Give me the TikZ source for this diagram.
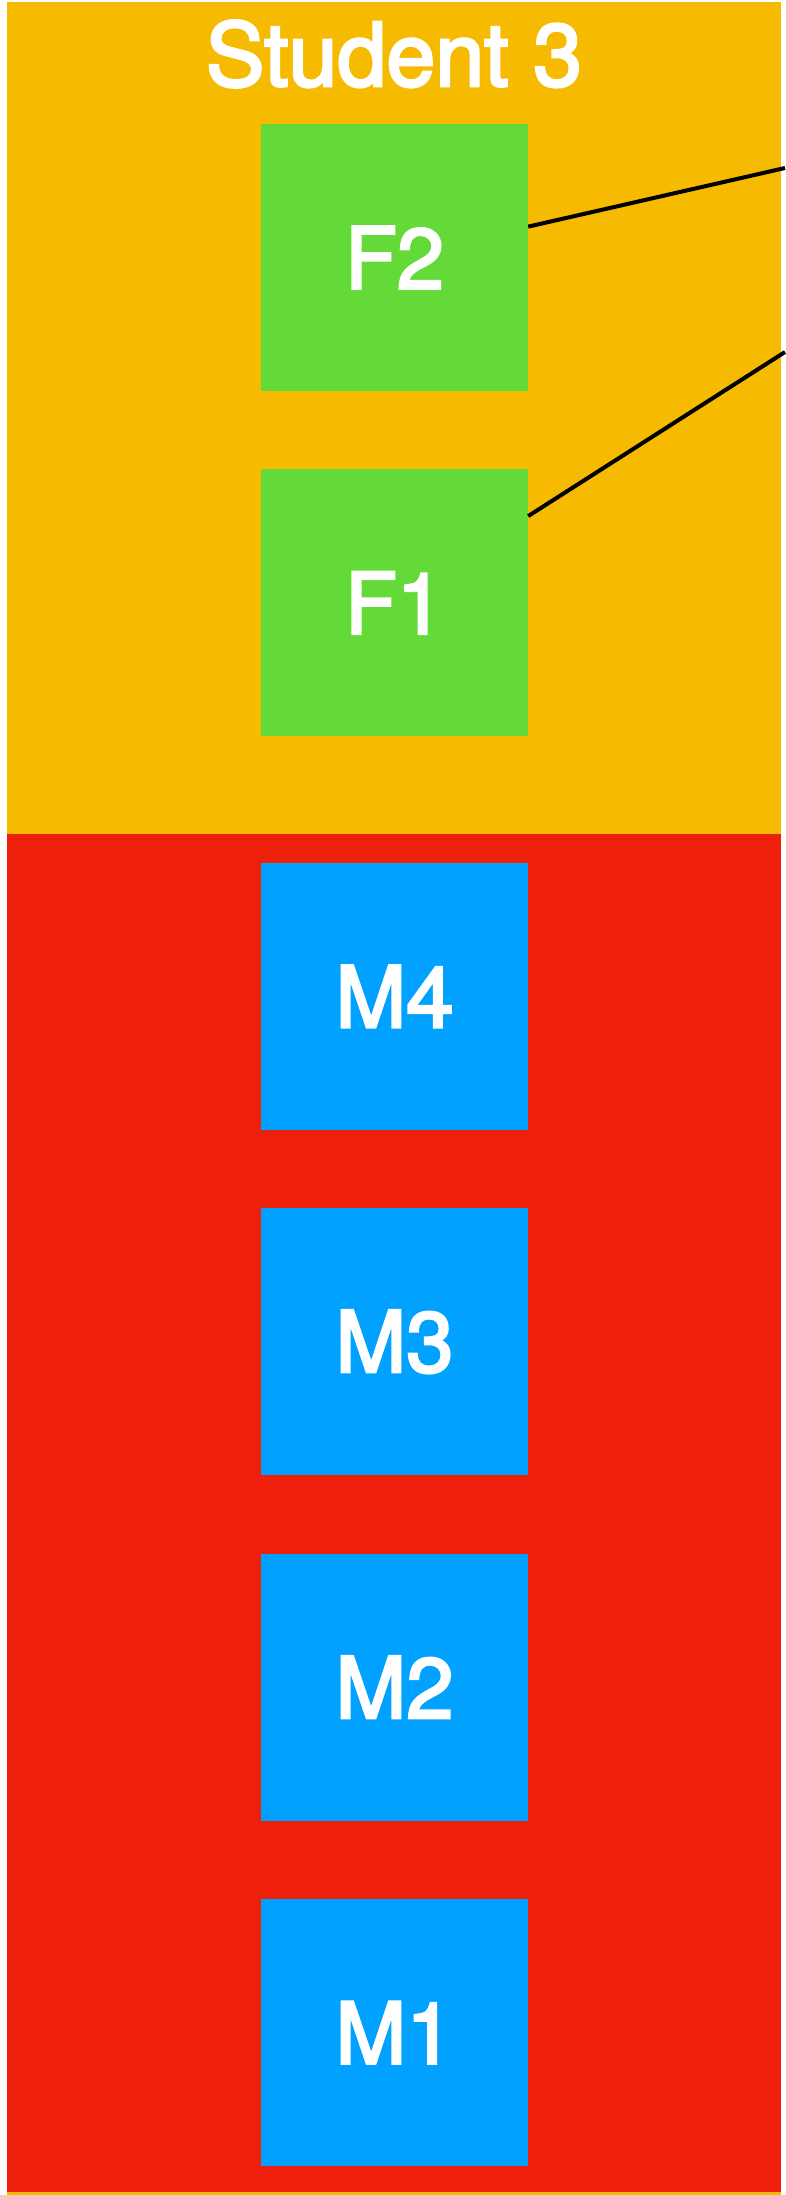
\documentclass[tikz,border=0pt]{standalone}
\usepackage{fontspec}
\setmainfont{TeX Gyre Heros}[FakeBold=3]
\usepackage{xcolor}
\usepackage{tikz}
\usetikzlibrary{positioning}
\definecolor{laneYellow}{HTML}{F6BA00}
\definecolor{laneRed}{HTML}{EE200C}
\definecolor{boxGreen}{HTML}{63DA38}
\definecolor{boxBlue}{HTML}{00A1FF}

\begin{document}
\begin{tikzpicture}[x=1pt,y=-1pt,node distance=78pt,
    box/.style={rectangle, minimum width=267pt, minimum height=267pt, inner sep=0pt,
      text=white, font=\fontsize{85}{85}\selectfont},
    femaleBox/.style={box, fill=boxGreen},
    maleBox/.style={box, fill=boxBlue}]
    \useasboundingbox (0,0) rectangle (785,2195);
    \fill[white] (0,0) rectangle (785,2195);
    \fill[laneYellow] (7,2) rectangle (781,2195);
    \fill[laneRed] (7,834) rectangle (781,2192);

    \node (studentThree) [anchor=base, text=white, font=\fontsize{88}{88}\selectfont] at (394,86) {Student 3};
    \node (fTwo) [femaleBox] at (394.5,257.5) {F2};
    \node (fOne) [femaleBox, below=of fTwo] {F1};
    \node (mFour) [maleBox, below=126pt of fOne] {M4};
    \node (mThree) [maleBox, below=of mFour] {M3};
    \node (mTwo) [maleBox, below=of mThree] {M2};
    \node (mOne) [maleBox, below=of mTwo] {M1};

    \coordinate (outTop) at (785,168);
    \coordinate (outBottom) at (785,352);
    \draw[line width=4pt] (fTwo.13) -- (outTop);
    \draw[line width=4pt] (fOne.33.5) -- (outBottom);
  \end{tikzpicture}
\end{document}
